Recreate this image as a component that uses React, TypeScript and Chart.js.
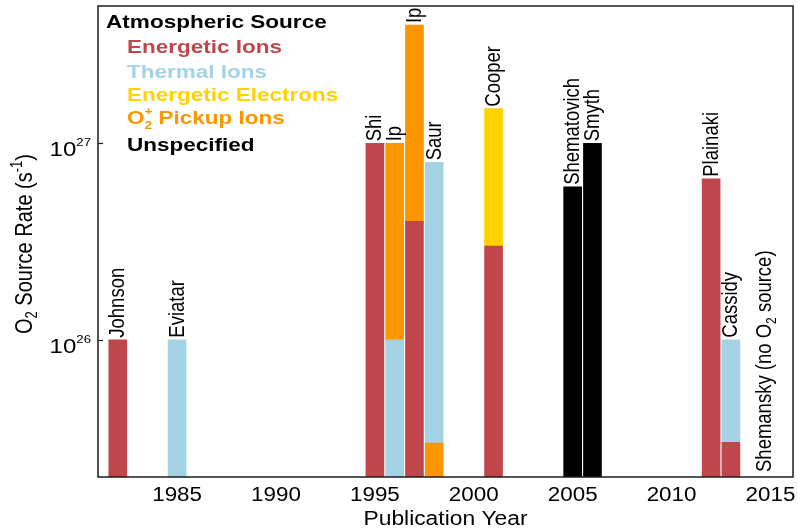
import React, { useEffect, useRef } from "react";
import { Chart, registerables } from "chart.js";

Chart.register(...registerables);

// ---------- data ----------
const years = [1982, 1985, 1995, 1996, 1997, 1998, 2001, 2005, 2006, 2012, 2013];
const authors = ["Johnson", "Eviatar", "Shi", "Ip", "Ip", "Saur", "Cooper", "Shematovich", "Smyth", "Plainaki", "Cassidy"];

// floating segments [low, high] in s^-1; BASE lies under the axis floor
const BASE = 1e25;
type Seg = [number, number] | null;
const energeticIons: Seg[] = [[BASE, 1e26], null, [BASE, 1e27], null, [BASE, 4e26], null, [BASE, 3e26], null, null, [BASE, 6.6e26], [BASE, 3e25]];
const thermalIons: Seg[] = [null, [BASE, 1e26], null, [BASE, 1e26], null, [3e25, 8e26], null, null, null, null, [3e25, 1e26]];
const energeticElectrons: Seg[] = [null, null, null, null, null, null, [3e26, 1.5e27], null, null, null, null];
const pickupIons: Seg[] = [null, null, null, [1e26, 1e27], [4e26, 4e27], [BASE, 3e25], null, null, null, null, null];
const unspecified: Seg[] = [null, null, null, null, null, null, null, [BASE, 6e26], [BASE, 1e27], null, null];

const noSourceYear = 2014.7;
const noSourceText = ["Shemansky (no O", "2", " source)"];

const xTickYears = [1985, 1990, 1995, 2000, 2005, 2010, 2015];
const yTickExponents = [26, 27];
const X_MIN = 1981.0;
const X_MAX = 2016.14;
const Y_MIN = 2e25;
const Y_MAX = 5e27;

const COLORS = {
  red: "#bf474b",
  blue: "#a5d3e6",
  yellow: "#ffd200",
  orange: "#fc9600",
  black: "#000000",
};

const series = [
  { name: "Energetic Ions", data: energeticIons, color: COLORS.red },
  { name: "Thermal Ions", data: thermalIons, color: COLORS.blue },
  { name: "Energetic Electrons", data: energeticElectrons, color: COLORS.yellow },
  { name: "O2+ Pickup Ions", data: pickupIons, color: COLORS.orange },
  { name: "Unspecified", data: unspecified, color: COLORS.black },
];

// ---------- text helpers ----------
type Piece = { t: string; size: number; bold?: boolean; dy?: number; adv?: boolean };
const FAMILY = '"Liberation Sans", Arial, Helvetica, sans-serif';
const fontOf = (size: number, bold?: boolean) => `${bold ? "bold " : ""}${size}px ${FAMILY}`;

function richWidth(ctx: CanvasRenderingContext2D, pieces: Piece[]) {
  let w = 0;
  for (const p of pieces) {
    ctx.font = fontOf(p.size, p.bold);
    if (p.adv !== false) w += ctx.measureText(p.t).width;
  }
  return w;
}

function drawRich(
  ctx: CanvasRenderingContext2D,
  pieces: Piece[],
  x: number,
  y: number,
  opts: { align?: "left" | "center" | "right"; rotate?: boolean; sx?: number; sy?: number; color?: string }
) {
  ctx.save();
  ctx.translate(x, y);
  if (opts.rotate) ctx.rotate(-Math.PI / 2);
  ctx.scale(opts.sx ?? 1, opts.sy ?? 1);
  const w = richWidth(ctx, pieces);
  let cx = opts.align === "center" ? -w / 2 : opts.align === "right" ? -w : 0;
  ctx.textAlign = "left";
  ctx.textBaseline = "alphabetic";
  ctx.fillStyle = opts.color ?? "#000";
  for (const p of pieces) {
    ctx.font = fontOf(p.size, p.bold);
    ctx.fillText(p.t, cx, p.dy ?? 0);
    if (p.adv !== false) cx += ctx.measureText(p.t).width;
  }
  ctx.restore();
}

const overlay = {
  id: "overlay",
  afterDraw(chart: any) {
    const ctx: CanvasRenderingContext2D = chart.ctx;
    const { left, right, top, bottom } = chart.chartArea;
    const xs = chart.scales.x;
    const ys = chart.scales.y;
    ctx.save();

    // frame
    ctx.strokeStyle = "#1c1c1c";
    ctx.lineWidth = 1.5;
    ctx.strokeRect(left, top, right - left, bottom - top);

    // y ticks and labels
    for (const e of yTickExponents) {
      const py = Math.round(ys.getPixelForValue(Math.pow(10, e))) + 0.5;
      ctx.beginPath();
      ctx.moveTo(left, py);
      ctx.lineTo(left + 5, py);
      ctx.lineWidth = 1.2;
      ctx.strokeStyle = "#1c1c1c";
      ctx.stroke();
      drawRich(
        ctx,
        [
          { t: "10", size: 20 },
          { t: String(e), size: 11, dy: -10 },
        ],
        91,
        py + 12,
        { align: "right", sx: 1.2 }
      );
    }

    // x tick labels
    for (const v of xTickYears) {
      const px = xs.getPixelForValue(v);
      drawRich(ctx, [{ t: String(v), size: 20 }], px, 501, { align: "center", sx: 1.12 });
    }

    // axis titles
    drawRich(ctx, [{ t: "Publication Year", size: 19.5 }], (left + right) / 2, 525, { align: "center", sx: 1.17 });
    drawRich(
      ctx,
      [
        { t: "O", size: 20 },
        { t: "2", size: 13, dy: 4 },
        { t: " Source Rate (s", size: 20 },
        { t: "-1", size: 13, dy: -8 },
        { t: ")", size: 20 },
      ],
      32,
      244,
      { align: "center", rotate: true, sy: 1.2 }
    );

    // legend
    drawRich(ctx, [{ t: "Atmospheric Source", size: 18.5, bold: true }], 106, 28, { sx: 1.22 });
    const legendY = [53, 78, 101, 124, 151];
    series.forEach((s, i) => {
      const pieces: Piece[] =
        s.name === "O2+ Pickup Ions"
          ? [
              { t: "O", size: 18, bold: true },
              { t: "+", size: 11, bold: true, dy: -9, adv: false },
              { t: "2", size: 11, bold: true, dy: 5 },
              { t: " Pickup Ions", size: 18, bold: true },
            ]
          : [{ t: s.name, size: 18, bold: true }];
      drawRich(ctx, pieces, 127, legendY[i], { sx: 1.25, color: s.color });
    });

    // bar labels
    years.forEach((yr, i) => {
      let topVal = 0;
      for (const s of series) {
        const seg = s.data[i];
        if (seg && seg[1] > topVal) topVal = seg[1];
      }
      const px = xs.getPixelForValue(yr) + 6.5;
      const py = ys.getPixelForValue(topVal) - 2;
      drawRich(ctx, [{ t: authors[i], size: 18.5 }], px, py, { rotate: true, sy: 1.15 });
    });
    drawRich(
      ctx,
      [
        { t: noSourceText[0], size: 18.5 },
        { t: noSourceText[1], size: 12, dy: 4 },
        { t: noSourceText[2], size: 18.5 },
      ],
      xs.getPixelForValue(noSourceYear) + 6.5,
      bottom - 5,
      { rotate: true, sy: 1.15 }
    );

    ctx.restore();
  },
};

export default function App() {
  const ref = useRef<HTMLCanvasElement | null>(null);

  useEffect(() => {
    document.body.style.margin = "0";
    const canvas = ref.current;
    if (!canvas) return;
    const datasets = series.map((s) => ({
      label: s.name,
      data: years
        .map((yr, i) => (s.data[i] ? { x: yr, y: s.data[i] as [number, number] } : null))
        .filter((d) => d !== null),
      backgroundColor: s.color,
      borderWidth: 0,
      barThickness: 18,
      grouped: false,
    }));

    const chart = new Chart(canvas, {
      type: "bar",
      data: { datasets: datasets as any },
      options: {
        animation: false,
        responsive: false,
        maintainAspectRatio: false,
        layout: { padding: { left: 0, right: 5, top: 6, bottom: 0 } },
        plugins: {
          legend: { display: false },
          tooltip: { enabled: false },
          title: { display: false },
        },
        scales: {
          x: {
            type: "linear",
            min: X_MIN,
            max: X_MAX,
            offset: false,
            grid: { display: false },
            border: { display: false },
            ticks: { display: false },
            afterFit: (scale: any) => {
              scale.height = 54;
            },
          },
          y: {
            type: "logarithmic",
            min: Y_MIN,
            max: Y_MAX,
            grid: { display: false },
            border: { display: false },
            ticks: { display: false },
            afterFit: (scale: any) => {
              scale.width = 98;
            },
          },
        },
      } as any,
      plugins: [overlay],
    });
    return () => chart.destroy();
  }, []);

  return (
    <div style={{ width: 798, height: 531 }}>
      <canvas ref={ref} width={798} height={531} style={{ display: "block", width: 798, height: 531 }} />
    </div>
  );
}
